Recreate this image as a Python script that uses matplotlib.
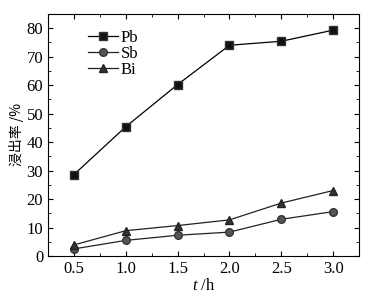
import matplotlib.pyplot as plt
from matplotlib.ticker import MultipleLocator

t = [0.5, 1.0, 1.5, 2.0, 2.5, 3.0]
pb = [28.6, 45.4, 60.2, 74.0, 75.4, 79.3]
sb = [2.5, 5.5, 7.3, 8.4, 12.9, 15.6]
bi = [3.9, 8.9, 10.7, 12.7, 18.6, 23.0]

plt.rcParams['font.family'] = ['Liberation Serif', 'Noto Sans CJK SC']
plt.rcParams['mathtext.fontset'] = 'custom'
plt.rcParams['mathtext.it'] = 'Liberation Serif:italic'
plt.rcParams['mathtext.rm'] = 'Liberation Serif'

fig = plt.figure(figsize=(3.78, 2.96), dpi=100)
ax = fig.add_axes([0.127, 0.135, 0.823, 0.818])

ax.plot(t, pb, color='black', lw=0.9, marker='s', ms=5.5, mfc='#111111', mec='#333333', label='Pb')
ax.plot(t, sb, color='#222222', lw=0.9, marker='o', ms=5.5, mfc='#555555', mec='#333333', label='Sb')
ax.plot(t, bi, color='#222222', lw=0.9, marker='^', ms=6, mfc='#333333', mec='#222222', label='Bi')

ax.set_xlim(0.25, 3.25)
ax.set_ylim(0, 85)
ax.xaxis.set_minor_locator(MultipleLocator(0.25))
ax.yaxis.set_major_locator(MultipleLocator(10))
ax.yaxis.set_minor_locator(MultipleLocator(5))
ax.set_xticks(t)
ax.tick_params(which='both', direction='in', top=True, right=True, labelsize=12)
ax.tick_params(which='major', length=3.5)
ax.tick_params(which='minor', length=2)
for s in ax.spines.values():
    s.set_linewidth(0.8)

ax.set_xlabel('$t$ /h', fontsize=12, labelpad=1)
ax.set_ylabel('浸出率 /%', fontsize=10, family=['Noto Sans CJK SC', 'DejaVu Sans'], labelpad=2)

ax.legend(loc='upper left', bbox_to_anchor=(0.08, 0.995), frameon=False, fontsize=12,
          handlelength=1.8, labelspacing=0.0, handletextpad=0.15)

fig.savefig('out.png', dpi=100)
